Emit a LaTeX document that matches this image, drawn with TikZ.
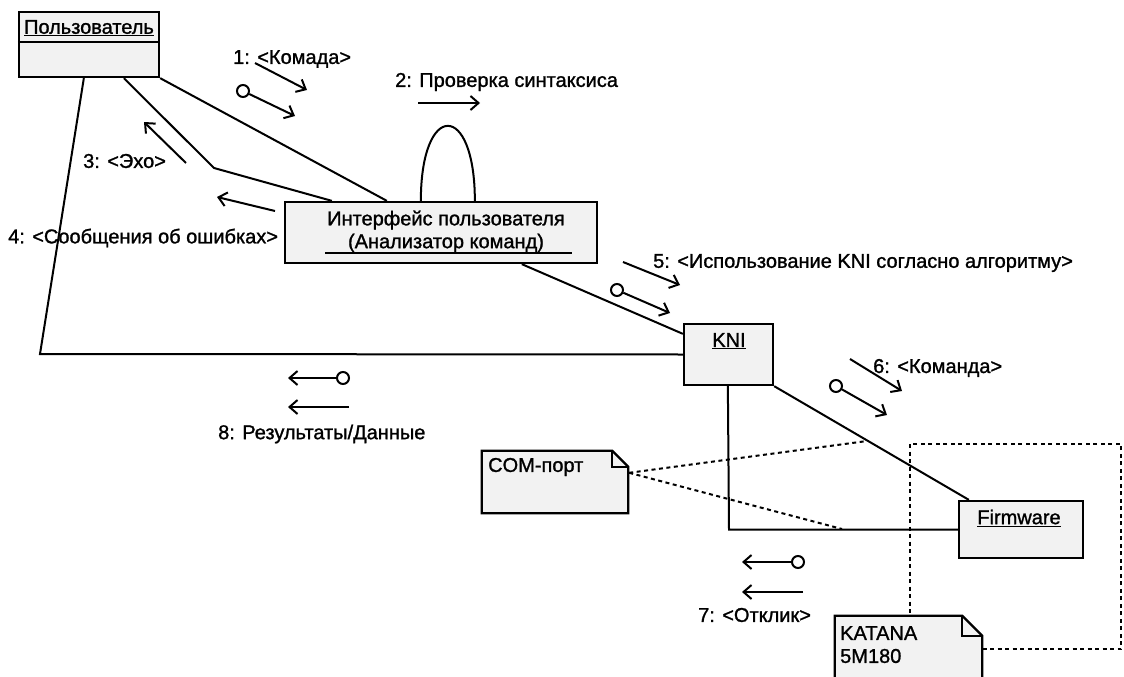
\documentclass[tikz,border=0pt]{standalone}
\usepackage{fontspec}
\setmainfont{Liberation Sans}[FakeBold=1.2]
\usetikzlibrary{arrows.meta,calc}
\definecolor{boxfill}{HTML}{F2F2F2}
\begin{document}
\begin{tikzpicture}[x=1pt,y=-1pt,
  font=\fontsize{20}{23}\selectfont,
  box/.style={draw, line width=2.3pt, fill=boxfill, inner sep=0},
  link/.style={line width=2pt},
  msg/.style={line width=2pt, -{Straight Barb[length=8pt,width=14pt,line width=2pt]}},
  dots/.style={line width=2pt, dash pattern=on 4pt off 3.5pt},
  notebox/.style={draw, line width=2.3pt, fill=boxfill},
  lbl/.style={anchor=west, inner sep=0},
  txt/.style={inner sep=0},
  ring/.style={circle, draw, line width=2pt, fill=white, minimum size=12pt, inner sep=0}]
\fill[white] (0,0) rectangle (1124,677);
\useasboundingbox (0,0) rectangle (1124,677);

% boxes
\node[box, minimum width=140pt, minimum height=65pt] (user) at (89,44.5) {};
\draw[line width=2pt] (user.west |- 0,42) -- (user.east |- 0,42);
\node[txt] (usertxt) at (89,28) {\underline{Пользователь}};

\node[box, minimum width=312pt, minimum height=61pt] (iface) at (441,232.5) {};
\node[txt] (ift1) at (446,220) {Интерфейс пользователя};
\node[txt] (ift2) at (446,243) {(Анализатор команд)};
\draw[line width=1.6pt] (325,253) -- (572,253);

\node[box, minimum width=89pt, minimum height=61pt] (kni) at (728.5,354.5) {};
\node[txt] (knitxt) at (729,341) {\underline{KNI}};

\node[box, minimum width=124pt, minimum height=57pt] (fw) at (1021,529.5) {};
\node[txt] (fwtxt) at (1019,518) {\underline{Firmware}};

% links
\draw[link] (user.south east) -- ($(iface.north west)+(103,0)$);
\draw[link] ($(user.south west)+(106,0)$) -- (214,168) -- ($(iface.north west)+(48,0)$);
\draw[link] ($(user.south west)+(66,0)$) -- (40,354) -- (kni.west);
\draw[link] ($(iface.south west)+(238,0)$) -- ($(kni.north west)+(0,11)$);
\draw[link] (kni.south east) -- ($(fw.north west)+(11,0)$);
\draw[link] ($(kni.south west)+(45,0)$) -- (729,529.5) -- (fw.west);
\draw[link] ($(iface.north west)+(137,0)$) .. controls +(0,-100) and +(0,-100) .. ($(iface.north west)+(191,0)$);

% KATANA boundary
\draw[dots] (910,444) rectangle (1121,649);

% notes
\node[inner sep=0, minimum width=146pt, minimum height=62pt] (com) at (555,482) {};
\draw[notebox] (com.north west) -- ($(com.north east)+(-16,0)$) -- ($(com.north east)+(0,16)$) -- (com.south east) -- (com.south west) -- cycle;
\draw[line width=2pt] ($(com.north east)+(-16,0)$) -- ($(com.north east)+(-16,16)$) -- ($(com.north east)+(0,16)$);
\node[lbl] (comtxt) at (488,467) {COM-порт};
\coordinate (comA) at ($(com.north east)+(1,22)$);
\coordinate (a1) at (867,441);
\coordinate (a2) at (842,529);
\draw[dots] (comA) -- (a1);
\draw[dots] (comA) -- (a2);

\node[inner sep=0, minimum width=147pt, minimum height=84pt] (kat) at (908.5,658) {};
\draw[notebox] (kat.north west) -- ($(kat.north east)+(-20,0)$) -- ($(kat.north east)+(0,20)$) -- (kat.south east) -- (kat.south west) -- cycle;
\draw[line width=2pt] ($(kat.north east)+(-20,0)$) -- ($(kat.north east)+(-20,20)$) -- ($(kat.north east)+(0,20)$);
\node[lbl] (kat1) at (840,633) {KATANA};
\node[lbl] (kat2) at (840,656) {5M180};

% messages
\coordinate (m1a) at (255,63); \coordinate (m1b) at (307,90);
\draw[msg] (m1a) -- (m1b);
\node[ring] (r1) at (243,91) {}; \coordinate (m1c) at (295,116);
\draw[msg] (r1) -- (m1c);
\node[lbl] (l1) at (233,59) {1: <Комада>};

\coordinate (m2a) at (418,103); \coordinate (m2b) at (480,103);
\draw[msg] (m2a) -- (m2b);
\node[lbl] (l2) at (395,82) {2: Проверка синтаксиса};

\coordinate (m3a) at (186,163); \coordinate (m3b) at (144,122);
\draw[msg] (m3a) -- (m3b);
\node[lbl] (l3) at (83,161) {3: <Эхо>};

\coordinate (m4a) at (275,211); \coordinate (m4b) at (217,197);
\draw[msg] (m4a) -- (m4b);
\node[lbl] (l4) at (8,238) {4: <Сообщения об ошибках>};

\coordinate (m5a) at (623,262); \coordinate (m5b) at (680,285);
\draw[msg] (m5a) -- (m5b);
\node[ring] (r5) at (617,290) {}; \coordinate (m5c) at (670,313);
\draw[msg] (r5) -- (m5c);
\node[lbl] (l5) at (653,263) {5: <Использование KNI согласно алгоритму>};

\coordinate (m6a) at (850,359); \coordinate (m6b) at (902,391);
\draw[msg] (m6a) -- (m6b);
\node[ring] (r6) at (836,386) {}; \coordinate (m6c) at (887,415);
\draw[msg] (r6) -- (m6c);
\node[lbl] (l6) at (873,368) {6: <Команда>};

\node[ring] (r7) at (798,562) {}; \coordinate (m7a) at (742,562);
\draw[msg] (r7) -- (m7a);
\coordinate (m7b) at (803,592); \coordinate (m7c) at (742,592);
\draw[msg] (m7b) -- (m7c);
\node[lbl] (l7) at (698,615) {7: <Отклик>};

\node[ring] (r8) at (343,378) {}; \coordinate (m8a) at (288,378);
\draw[msg] (r8) -- (m8a);
\coordinate (m8b) at (349,407); \coordinate (m8c) at (288,407);
\draw[msg] (m8b) -- (m8c);
\node[lbl] (l8) at (218,434) {8: Результаты/Данные};
\end{tikzpicture}
\end{document}
